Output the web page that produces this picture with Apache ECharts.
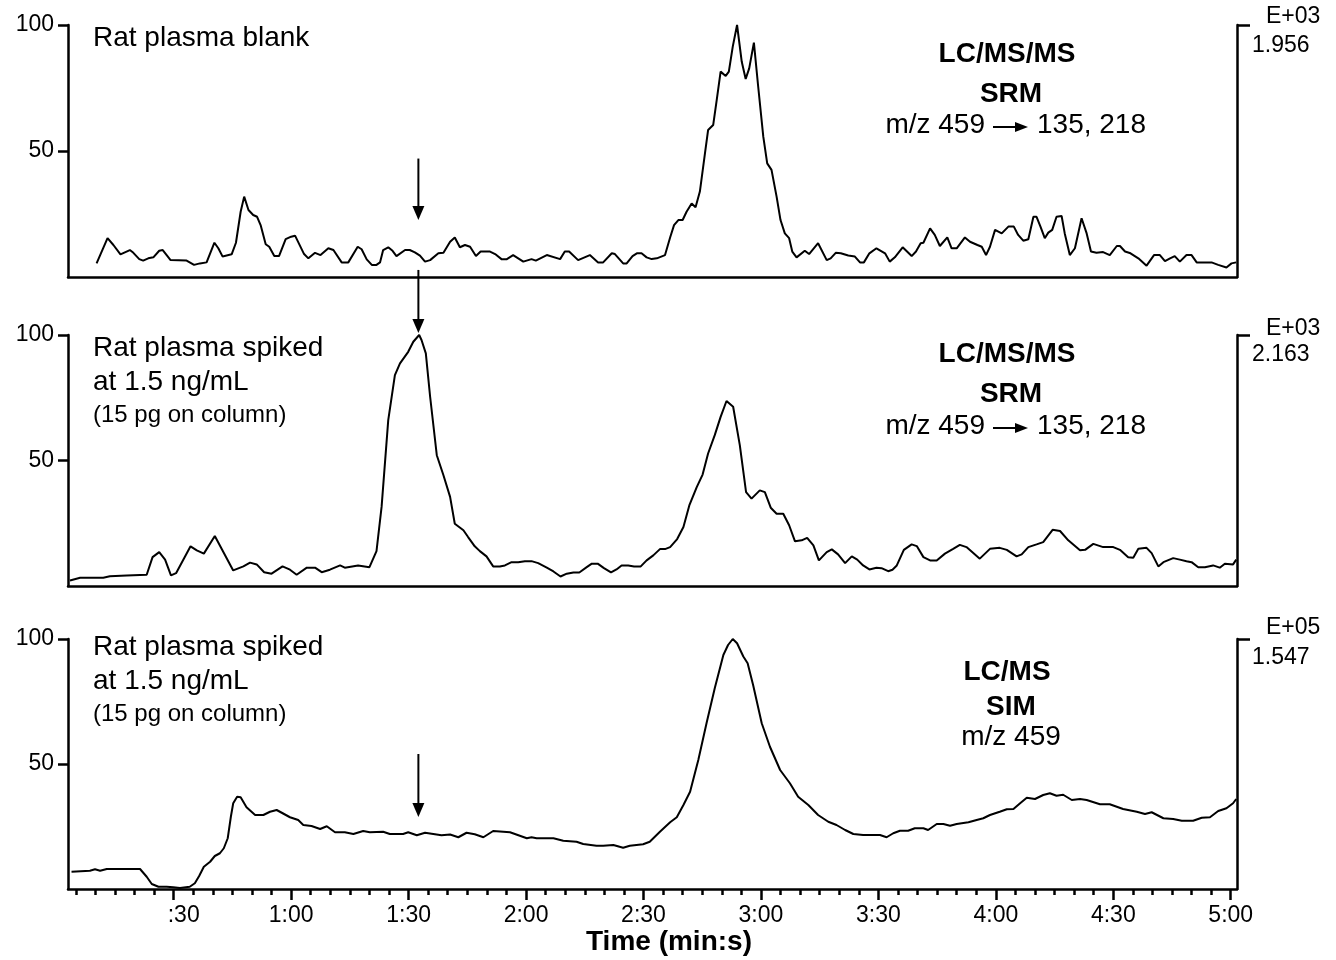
<!DOCTYPE html>
<html>
<head>
<meta charset="utf-8">
<title>Rat plasma SRM / SIM chromatograms</title>
<script src="https://cdn.jsdelivr.net/npm/echarts@6/dist/echarts.min.js"></script>
<style>
    html, body { margin: 0; padding: 0; background: #fff; }
    #chart { width: 1336px; height: 960px; }
</style>
</head>
<body>
<div id="chart"></div>
<script>
    // [retention time (s), relative intensity (%)]
    const blankTrace = [
        [10.3,5.4],[13.1,15.4],[14.6,12.7],[16.4,9.0],[18.8,10.7],[19.7,9.6],[21.2,7.1],[22.2,6.5],[23.5,7.4],[24.8,7.8],
        [26.3,10.4],[27.2,10.7],[29.2,6.7],[33.3,6.5],[35.2,4.8],[36.7,5.4],[38.4,5.8],[40.4,13.6],[41.4,11.4],[42.5,8.1],
        [44.8,9.0],[45.9,13.6],[47.1,25.9],[48.0,31.9],[49.1,26.6],[50.3,24.6],[51.3,23.9],[52.2,20.6],[53.5,13.0],[54.4,12.0],
        [55.7,8.3],[56.9,8.3],[58.6,15.0],[60.0,16.0],[61.0,16.4],[63.3,9.1],[64.4,7.4],[66.1,9.6],[67.5,8.7],[69.5,11.4],
        [70.8,10.7],[72.9,5.8],[74.6,5.8],[77.0,12.0],[78.0,11.0],[79.3,7.0],[80.6,4.8],[81.8,4.8],[82.7,5.8],[83.5,10.7],
        [84.8,11.8],[85.9,10.4],[86.9,8.3],[89.1,10.7],[90.3,10.7],[91.6,9.8],[92.9,8.5],[94.2,6.1],[95.5,6.7],[97.6,9.4],
        [98.9,9.6],[100.6,14.0],[101.8,15.7],[103.1,11.8],[104.4,12.7],[105.7,12.0],[107.2,8.3],[108.4,10.1],[110.8,10.1],[112.1,9.1],
        [113.8,7.0],[115.0,7.0],[116.7,8.7],[119.3,6.1],[121.4,7.1],[122.5,6.5],[125.3,8.7],[128.7,7.1],[129.9,10.1],[131.0,10.1],
        [133.3,6.7],[136.3,8.7],[138.4,5.8],[139.7,5.8],[141.9,9.4],[142.7,9.1],[144.8,5.4],[145.7,5.4],[147.2,8.3],[148.3,9.4],
        [149.5,9.4],[150.8,7.8],[152.1,7.1],[153.4,7.4],[155.5,8.7],[156.8,15.7],[157.8,20.6],[158.9,22.6],[160.0,22.6],[161.0,25.9],
        [162.3,29.2],[163.3,27.7],[164.4,33.9],[165.7,49.1],[166.5,58.3],[167.8,60.3],[168.7,70.2],[169.7,81.5],[171.0,79.8],[171.8,81.5],
        [172.8,91.4],[173.9,100],[175.1,85.4],[176.1,78.6],[177.0,82.8],[178.2,93.0],[179.3,75.5],[180.6,55.7],[181.6,45.1],[182.7,42.5],
        [184.0,31.9],[185.0,22.6],[186.1,17.3],[187.2,15.4],[188.0,10.1],[189.1,7.8],[191.2,10.4],[192.3,9.1],[194.6,13.4],[196.8,6.7],
        [197.8,7.4],[199.1,9.6],[200.4,9.4],[202.3,8.5],[204.0,8.1],[205.3,5.8],[206.3,5.8],[207.7,9.4],[209.5,11.4],[211.7,9.4],
        [212.9,6.1],[214.2,7.8],[216.2,11.8],[218.5,8.3],[219.6,10.1],[220.8,13.4],[221.5,13.6],[223.2,19.3],[224.4,16.7],[225.7,12.3],
        [227.6,15.7],[228.7,11.4],[230.0,11.4],[232.1,15.7],[233.4,14.0],[235.3,12.7],[236.4,12.0],[237.5,8.7],[238.5,12.0],[239.8,18.7],
        [241.5,17.3],[243.2,20.0],[244.6,20.0],[245.7,16.7],[247.0,14.4],[248.3,15.0],[249.6,23.9],[250.4,23.9],[251.4,20.0],[252.5,15.4],
        [253.4,17.6],[254.4,18.7],[255.5,23.9],[256.8,24.2],[257.6,17.3],[258.9,8.7],[260.2,11.4],[261.9,23.3],[263.2,17.3],[264.3,10.1],
        [265.7,9.6],[267.4,9.9],[269.1,8.7],[270.9,12.3],[271.7,12.3],[273.0,10.1],[274.4,9.4],[276.4,7.4],[278.5,4.5],[280.4,8.7],
        [281.9,8.7],[283.2,6.3],[284.5,7.4],[285.7,8.3],[287.0,6.1],[288.7,8.7],[290.0,8.7],[291.3,5.8],[295.1,5.8],[296.8,4.8],
        [298.9,3.8],[300.2,5.4],[301.4,5.8]
    ]

    const spikedSrmTrace = [
        [3.5,2.2],[6.1,3.3],[12.0,3.3],[13.7,3.9],[18.0,4.2],[23.1,4.5],[24.6,11.5],[26.3,13.5],[27.8,10.5],[29.3,4.2],
        [30.6,5.1],[34.3,15.8],[35.9,14.2],[37.7,12.9],[40.5,19.9],[45.2,6.2],[47.8,7.8],[49.5,9.3],[51.2,8.6],[53.1,5.5],
        [55.0,4.9],[57.8,7.8],[59.7,6.5],[61.4,4.5],[64.0,7.3],[66.1,7.3],[67.8,5.5],[69.9,6.5],[72.5,8.2],[73.7,7.3],
        [77.1,8.2],[80.0,7.5],[81.8,13.9],[83.1,31.5],[84.8,66.1],[86.5,84.0],[87.8,88.7],[89.9,93.3],[91.2,97.3],[92.7,100],
        [93.3,98.0],[94.4,92.7],[95.5,75.4],[97.2,52.1],[98.9,44.1],[100.6,35.5],[101.8,24.8],[104.0,22.2],[105.2,19.5],[106.9,15.8],
        [108.2,13.9],[109.9,11.8],[111.6,7.8],[113.3,7.8],[114.6,8.2],[116.3,9.5],[118.0,9.5],[119.7,9.9],[121.4,9.9],[123.1,9.1],
        [125.3,7.3],[127.0,5.8],[128.8,3.8],[130.4,4.9],[132.1,5.4],[133.6,5.4],[135.5,7.5],[136.8,8.9],[138.3,8.9],[139.9,7.1],
        [141.7,5.4],[143.1,6.6],[144.4,8.2],[146.1,8.2],[147.6,7.8],[149.3,7.8],[150.8,10.2],[152.5,12.2],[154.2,14.7],[155.5,14.7],
        [156.8,15.5],[158.6,18.7],[160.2,23.5],[161.7,32.1],[163.6,39.4],[165.1,44.4],[166.5,52.8],[168.2,60.1],[169.7,67.4],[171.2,73.7],
        [172.9,71.4],[174.6,56.1],[176.2,37.4],[177.6,34.8],[179.7,38.1],[181.0,37.4],[182.5,31.2],[184.0,28.8],[185.7,28.8],[187.2,24.2],
        [188.7,17.8],[190.4,18.2],[191.8,19.2],[193.4,16.2],[194.8,10.2],[196.8,13.5],[198.1,14.6],[199.7,12.6],[201.5,9.1],[203.2,11.8],
        [204.6,10.5],[206.1,8.2],[207.7,6.6],[209.5,7.3],[210.8,7.1],[212.5,5.9],[213.6,6.5],[214.7,8.2],[216.5,14.4],[218.5,16.6],
        [219.8,15.9],[221.5,11.5],[223.2,10.2],[224.9,10.2],[227.0,12.9],[229.1,14.8],[230.8,16.4],[232.5,15.5],[235.9,10.9],[238.5,14.8],
        [241.0,15.2],[242.8,14.4],[245.3,11.8],[246.6,12.6],[248.3,15.5],[250.4,16.6],[252.1,17.5],[254.5,22.4],[256.4,21.9],[258.5,18.2],
        [261.5,14.2],[262.8,14.4],[264.9,16.8],[267.4,15.5],[270.0,15.5],[271.7,14.4],[273.8,11.5],[275.1,11.3],[276.4,14.8],[278.5,15.2],
        [279.8,13.1],[281.5,7.8],[282.8,9.5],[285.3,11.1],[287.0,10.5],[288.7,9.9],[290.0,9.5],[291.7,7.5],[293.4,7.5],[295.5,8.2],
        [297.2,7.3],[298.5,8.9],[300.6,8.6],[301.4,10.5]
    ]

    const spikedSimTrace = [
        [3.9,6.9],[8.6,7.3],[9.9,7.9],[11.2,7.3],[12.9,8.0],[21.4,8.0],[23.1,4.9],[24.4,2.0],[26.1,0.9],[28.2,0.9],
        [29.9,0.7],[31.6,0.4],[34.1,0.9],[35.4,2.3],[36.5,5.2],[37.7,8.9],[39.3,10.9],[40.5,13.2],[41.8,14.3],[42.8,16.3],
        [43.8,20.3],[44.6,28.9],[45.2,34.3],[46.2,36.9],[47.1,36.7],[48.6,32.7],[50.8,29.6],[52.9,29.6],[54.6,30.9],[56.3,31.6],
        [57.6,30.5],[59.7,28.7],[61.8,27.6],[63.1,25.6],[65.2,25.2],[67.4,24.0],[69.1,25.1],[71.2,22.7],[73.7,22.7],[75.9,22.0],
        [78.4,23.2],[80.1,22.7],[83.5,22.9],[85.2,22.0],[88.6,22.0],[89.9,22.7],[92.1,21.5],[94.2,22.5],[96.3,22.0],[98.4,21.5],
        [100.6,21.8],[102.7,20.7],[104.8,22.5],[106.9,21.9],[109.1,20.7],[111.6,23.2],[115.9,22.7],[120.2,20.3],[121.4,20.7],[122.7,20.3],
        [127.0,20.3],[129.5,19.3],[132.9,18.9],[134.6,18.0],[138.0,17.3],[139.7,17.3],[142.3,17.6],[144.8,16.5],[146.5,17.3],[149.9,17.9],
        [151.6,18.9],[154.2,22.9],[156.8,26.7],[158.5,28.7],[160.2,33.6],[161.9,38.9],[164.0,51.6],[166.1,66.3],[168.2,80.3],[170.4,93.6],
        [171.6,97.6],[172.8,100],[173.9,98.3],[175.5,93.0],[176.6,90.3],[178.0,81.6],[180.2,66.3],[182.3,56.9],[184.9,47.6],[187.4,42.3],
        [189.5,36.9],[192.1,33.6],[194.6,29.6],[197.2,26.9],[199.3,25.6],[201.5,23.6],[203.6,22.0],[206.1,21.6],[210.4,21.6],[212.1,20.7],
        [213.8,22.3],[215.5,23.3],[217.6,23.3],[219.3,24.3],[221.5,24.3],[222.7,23.6],[224.9,26.0],[226.6,26.0],[228.3,25.3],[230.0,26.0],
        [233.0,26.7],[235.1,27.6],[236.8,28.3],[238.5,29.6],[241.0,30.9],[242.8,31.9],[244.5,32.0],[246.2,34.3],[247.9,36.5],[250.0,36.0],
        [252.1,37.6],[253.8,38.3],[255.5,37.3],[257.2,37.7],[259.4,35.6],[261.5,36.0],[263.2,35.6],[266.6,33.9],[269.1,33.9],[272.5,32.0],
        [276.0,30.9],[278.1,30.0],[279.8,30.7],[282.8,28.3],[285.3,28.0],[287.5,27.3],[290.4,27.3],[292.6,28.5],[294.7,28.7],[296.8,31.2],
        [298.9,32.3],[300.6,34.3],[301.4,36.0]
    ]

    // axis ticks (s)
    const majorTicks = [30, 60, 90, 120, 150, 180, 210, 240, 270, 300]
    const minorTicks = [5, 10, 15, 20, 25, 35, 40, 45, 50, 55, 65, 70, 75, 80, 85, 95, 100, 105, 110, 115,
        125, 130, 135, 140, 145, 155, 160, 165, 170, 175, 185, 190, 195, 200, 205, 215, 220, 225, 230, 235,
        245, 250, 255, 260, 265, 275, 280, 285, 290, 295]
    const yTicks = [50, 100]

    // panel texts
    const sampleLabels = [
        ['Rat plasma blank'],
        ['Rat plasma spiked', 'at 1.5 ng/mL', '(15 pg on column)'],
        ['Rat plasma spiked', 'at 1.5 ng/mL', '(15 pg on column)']
    ]
    const methodLabels = [['LC/MS/MS', 'SRM'], ['LC/MS/MS', 'SRM'], ['LC/MS', 'SIM']]
    const scaleExp = ['E+03', 'E+03', 'E+05']
    const scaleMax = ['1.956', '2.163', '1.547']
    const markTime = 92.5

    const FONT = "'Liberation Sans', Arial, Helvetica, sans-serif"
    const LINE = { color: '#000', width: 2.5 }

    const grids = [
        { left: 68, width: 1169, top: 25, height: 252 },
        { left: 68, width: 1169, top: 335, height: 251 },
        { left: 68, width: 1169, top: 639, height: 250 }
    ]

    function fmtTime(v) {
        const m = Math.floor(v / 60)
        const s = v % 60
        const txt = (m > 0 ? m : '') + ':' + (s < 10 ? '0' + s : s)
        return m === 0 ? '{lead|' + txt + '}' : txt
    }

    const xAxes = []
    const yAxes = []
    grids.forEach((g, i) => {
        const last = i === 2
        xAxes.push({
            type: 'value', gridIndex: i, position: 'bottom', min: 3, max: 301.6,
            axisLine: { show: true, onZero: false, lineStyle: LINE },
            axisTick: last ? { show: true, customValues: majorTicks, length: 11, lineStyle: LINE } : { show: false },
            axisLabel: last ? {
                show: true, customValues: majorTicks, formatter: fmtTime, margin: 15,
                color: '#000', fontSize: 23, fontFamily: FONT,
                rich: { lead: { padding: [0, 0, 0, 20], color: '#000', fontSize: 23, fontFamily: FONT } }
            } : { show: false },
            splitLine: { show: false }
        })
        yAxes.push({
            type: 'value', gridIndex: i, position: 'left', min: 0, max: 100,
            axisLine: { show: true, lineStyle: LINE },
            axisTick: { show: true, customValues: yTicks, length: 10, lineStyle: LINE },
            axisLabel: { customValues: yTicks, margin: 14, color: '#000', fontSize: 23, fontFamily: FONT },
            splitLine: { show: false }
        })
    })
    // minor time ticks of the bottom panel
    xAxes.push({
        type: 'value', gridIndex: 2, position: 'bottom', min: 3, max: 301.6,
        axisLine: { show: false },
        axisTick: { show: true, customValues: minorTicks, length: 6, lineStyle: LINE },
        axisLabel: { show: false },
        splitLine: { show: false }
    })
    // right-hand scale axes
    grids.forEach((g, i) => {
        yAxes.push({
            type: 'value', gridIndex: i, position: 'right', min: 0, max: 100,
            axisLine: { show: true, lineStyle: LINE },
            axisTick: { show: true, customValues: [100], length: 13, lineStyle: LINE },
            axisLabel: { show: false },
            splitLine: { show: false }
        })
    })

    const traces = [blankTrace, spikedSrmTrace, spikedSimTrace]
    const series = traces.map((d, i) => ({
        type: 'line', xAxisIndex: i, yAxisIndex: i, data: d,
        showSymbol: false, symbol: 'none', animation: false,
        lineStyle: { color: '#000', width: 2 }
    }))

    const myChart = echarts.init(document.getElementById('chart'), null, { renderer: 'canvas' })
    myChart.setOption({
        backgroundColor: '#fff',
        animation: false,
        grid: grids,
        xAxis: xAxes,
        yAxis: yAxes,
        series: series
    })

    // ---- annotations ----
    function txt(text, x, y, size, align, bold) {
        return {
            type: 'text', x: x, y: y, silent: true,
            style: {
                text: text, fill: '#000',
                font: (bold ? 'bold ' : '') + size + 'px ' + FONT,
                align: align, verticalAlign: 'middle',
                textAlign: align, textVerticalAlign: 'middle'
            }
        }
    }
    function arrow(x, y1, y2, head, half) {
        return [
            { type: 'line', silent: true, shape: { x1: x, y1: y1, x2: x, y2: y2 - head + 2 }, style: { stroke: '#000', lineWidth: 2 } },
            { type: 'polygon', silent: true, shape: { points: [[x - half, y2 - head], [x + half, y2 - head], [x, y2]] }, style: { fill: '#000' } }
        ]
    }
    function hArrow(x1, x2, y) {
        return [
            { type: 'line', silent: true, shape: { x1: x1, y1: y, x2: x2 - 10, y2: y }, style: { stroke: '#000', lineWidth: 2 } },
            { type: 'polygon', silent: true, shape: { points: [[x2 - 13, y - 5], [x2 - 13, y + 5], [x2, y]] }, style: { fill: '#000' } }
        ]
    }

    const px = (grid, v) => myChart.convertToPixel({ gridIndex: grid }, [markTime, v])
    const a1 = [px(0, 47), px(0, 22.6)]
    const a2 = [px(0, 2.8), px(1, 100.8)]
    const a3 = [px(2, 54), px(2, 28.8)]

    let g = []
    // sample descriptions
    const sampleY = [[38], [348, 382, 415], [647, 681, 714]]
    sampleLabels.forEach((lines, i) => {
        lines.forEach((t, j) => {
            const small = t.charAt(0) === '('
            g.push(txt(t, 93, sampleY[i][j], small ? 24 : 28, 'left', false))
        })
    })
    // method descriptions
    const methodY = [[54, 94], [354, 394], [672, 707]]
    methodLabels.forEach((lines, i) => {
        g.push(txt(lines[0], 1007, methodY[i][0], 28, 'center', true))
        g.push(txt(lines[1], 1011, methodY[i][1], 28, 'center', true))
    })
    const mzY = [125, 426]
    mzY.forEach(y => {
        g.push(txt('m/z 459', 985, y, 28, 'right', false))
        g = g.concat(hArrow(993, 1028, y + 2))
        g.push(txt('135, 218', 1037, y, 28, 'left', false))
    })
    g.push(txt('m/z 459', 1011, 737, 28, 'center', false))
    // full-scale values
    const expY = [17, 329, 628]
    const maxY = [46, 355, 658]
    scaleExp.forEach((t, i) => {
        g.push(txt(t, 1266, expY[i], 23, 'left', false))
        g.push(txt(scaleMax[i], 1252, maxY[i], 23, 'left', false))
    })
    g.push(txt('Time (min:s)', 669, 942, 28, 'center', true))
    // retention-time markers
    g = g.concat(arrow(a1[0][0], a1[0][1], a1[1][1], 14, 6))
    g = g.concat(arrow(a2[0][0], a2[0][1], a2[1][1], 14, 6))
    g = g.concat(arrow(a3[0][0], a3[0][1], a3[1][1], 14, 6))

    myChart.setOption({ graphic: g })
    window.addEventListener('resize', myChart.resize)
</script>
</body>
</html>
